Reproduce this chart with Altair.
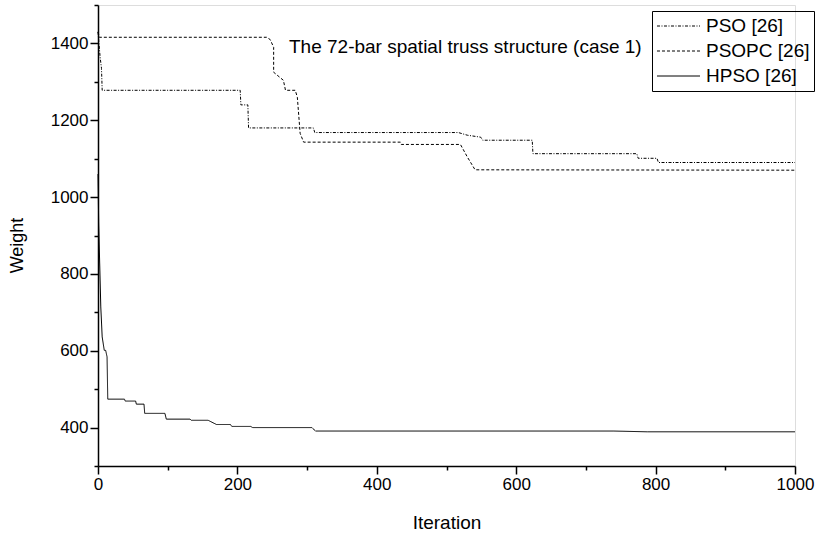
import altair as alt
import pandas as pd

series_names = ["PSO [26]", "PSOPC [26]", "HPSO [26]"]

pso_iter = [0, 3, 5, 6, 204, 205, 215, 216, 309, 311, 517, 530, 549, 552, 623, 624, 773, 775, 802, 804, 1000]
pso_weight = [1430, 1365, 1335, 1278, 1278, 1240, 1240, 1180, 1180, 1168, 1168, 1161, 1156, 1148, 1148, 1113, 1113, 1101, 1101, 1090, 1090]

psopc_iter = [0, 2, 242, 247, 252, 252, 266, 269, 283, 286, 290, 295, 434, 435, 520, 530, 541, 1000]
psopc_weight = [1430, 1416, 1416, 1410, 1390, 1325, 1304, 1278, 1278, 1260, 1166, 1143, 1143, 1137, 1137, 1104, 1071, 1070]

hpso_iter = [0, 1, 4, 6, 9, 11, 13, 14, 38, 39, 54, 55, 66, 67, 96, 98, 132, 134, 158, 170, 190, 192, 219, 222, 307, 312, 740, 788, 1000]
hpso_weight = [1060, 930, 714, 636, 601, 601, 584, 474, 474, 469, 469, 461, 461, 437, 437, 422, 422, 419, 419, 408, 408, 403, 403, 400, 400, 391, 391, 389, 389]

x_major = [0, 200, 400, 600, 800, 1000]
x_minor = [100, 300, 500, 700, 900]
y_major = [400, 600, 800, 1000, 1200, 1400]
y_minor = [300, 500, 700, 900, 1100, 1300, 1500]

rows = []
for name, its, ws in zip(series_names, [pso_iter, psopc_iter, hpso_iter], [pso_weight, psopc_weight, hpso_weight]):
    for k, (i, w) in enumerate(zip(its, ws)):
        rows.append({"series": name, "Iteration": i, "Weight": w, "k": k})
df = pd.DataFrame(rows)

FONT = "Liberation Sans"
x_scale = alt.Scale(domain=[0, 1000], nice=False, zero=False)
y_scale = alt.Scale(domain=[300, 1500], nice=False, zero=False)

x_axis = alt.Axis(
    values=x_major, format="d", orient="bottom",
    tickSize=8, grid=False, domainColor="black", domainWidth=1.5, tickColor="black", tickWidth=1.5,
    labelFont=FONT, labelFontSize=17, labelColor="black", labelPadding=2, labelFlush=False,
    title="Iteration", titleFont=FONT, titleFontSize=19, titleFontWeight="normal", titleColor="black",
    titleBaseline="alphabetic", titleY=62,
)
y_axis = alt.Axis(
    values=y_major, format="d", orient="left",
    tickSize=8, grid=False, domainColor="black", domainWidth=1.5, tickColor="black", tickWidth=1.5,
    labelFont=FONT, labelFontSize=17, labelColor="black", labelPadding=2, labelFlush=False,
    title="Weight", titleFont=FONT, titleFontSize=18, titleFontWeight="normal", titleColor="black",
    titleBaseline="alphabetic", titleX=-76, titleY=240,
)
x_axis_minor = alt.Axis(
    values=x_minor, orient="bottom", tickSize=4, labels=False, domain=False, grid=False,
    tickColor="black", tickWidth=1.5, title=None,
)
y_axis_minor = alt.Axis(
    values=y_minor, orient="left", tickSize=4, labels=False, domain=False, grid=False,
    tickColor="black", tickWidth=1.5, title=None,
)

lines = alt.Chart(df).mark_line(strokeWidth=1, color="black").encode(
    x=alt.X("Iteration:Q", scale=x_scale, axis=x_axis),
    y=alt.Y("Weight:Q", scale=y_scale, axis=y_axis),
    strokeDash=alt.StrokeDash(
        "series:N",
        scale=alt.Scale(domain=series_names, range=[[3, 1.5, 1, 1.5], [3, 2], [1, 0]]),
        legend=alt.Legend(
            title=None, orient="none", legendX=554, legendY=6,
            strokeColor="black", padding=4, symbolType="stroke", symbolSize=1850,
            symbolStrokeWidth=1, symbolStrokeColor="black", labelFont=FONT, labelFontSize=19,
            labelColor="black", labelOffset=5, clipHeight=22, rowPadding=3,
        ),
    ),
    detail="series:N",
    order="k:Q",
)

minor = alt.Chart(df).mark_line(strokeWidth=1, opacity=0).encode(
    x=alt.X("Iteration:Q", scale=x_scale, axis=x_axis_minor),
    y=alt.Y("Weight:Q", scale=y_scale, axis=y_axis_minor),
    detail="series:N",
    order="k:Q",
)

chart = alt.layer(lines, minor).resolve_axis(x="independent", y="independent").properties(
    width=697, height=461,
    padding={"left": 98, "top": 5, "right": 21, "bottom": 72},
    autosize=alt.AutoSizeParams(type="none"),
    title=alt.TitleParams(
        text="The 72-bar spatial truss structure (case 1)", anchor="start", frame="group",
        dx=191, offset=-68, baseline="alphabetic", font=FONT, fontSize=19, fontWeight="normal",
        color="black",
    ),
).configure_view(stroke=None).configure(background="white")

chart.save("out.html", embed_options={"renderer": "svg", "actions": False})
